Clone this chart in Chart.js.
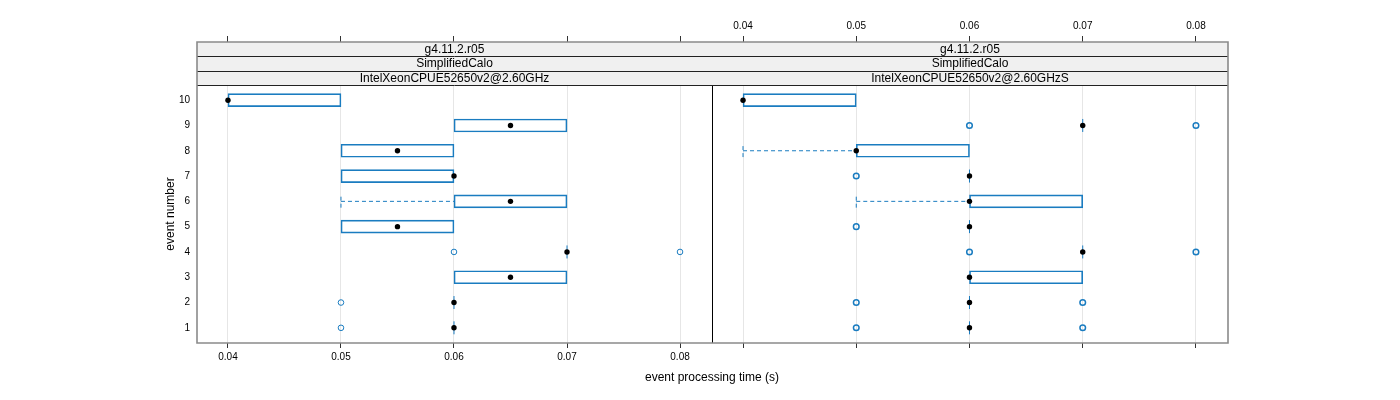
<!DOCTYPE html>
<html><head><meta charset="utf-8">
<script src="https://cdn.jsdelivr.net/npm/chart.js@4.4.1/dist/chart.umd.min.js"></script>
<style>
html,body{margin:0;padding:0;background:#fff;}
#wrap{position:relative;width:1400px;height:400px;}
canvas{position:absolute;left:0;top:0;}
</style>
</head><body>
<div id="wrap"><canvas id="c1" width="1400" height="400"></canvas><canvas id="c2" width="1400" height="400"></canvas></div>
<script>
// ---- data ----
const events = [1, 2, 3, 4, 5, 6, 7, 8, 9, 10];
const xTicks = [0.04, 0.05, 0.06, 0.07, 0.08];
const stripTop = ['g4.11.2.r05', 'SimplifiedCalo'];
const panelNames = ['IntelXeonCPUE52650v2@2.60GHz', 'IntelXeonCPUE52650v2@2.60GHzS'];

// panel 1: IntelXeonCPUE52650v2@2.60GHz
const ghzLow  = [0.06, 0.06, 0.06, 0.07, 0.05, 0.05, 0.05, 0.05, 0.06, 0.04];
const ghzQ1   = [0.06, 0.06, 0.06, 0.07, 0.05, 0.06, 0.05, 0.05, 0.06, 0.04];
const ghzMed  = [0.06, 0.06, 0.065, 0.07, 0.055, 0.065, 0.06, 0.055, 0.065, 0.04];
const ghzQ3   = [0.06, 0.06, 0.07, 0.07, 0.06, 0.07, 0.06, 0.06, 0.07, 0.05];
const ghzHigh = [0.06, 0.06, 0.07, 0.07, 0.06, 0.07, 0.06, 0.06, 0.07, 0.05];
const ghzOut  = [[0.05], [0.05], [], [0.06, 0.08], [], [], [], [], [], []];

// panel 2: IntelXeonCPUE52650v2@2.60GHzS
const ghzsLow  = [0.06, 0.06, 0.06, 0.07, 0.06, 0.05, 0.06, 0.04, 0.07, 0.04];
const ghzsQ1   = [0.06, 0.06, 0.06, 0.07, 0.06, 0.06, 0.06, 0.05, 0.07, 0.04];
const ghzsMed  = [0.06, 0.06, 0.06, 0.07, 0.06, 0.06, 0.06, 0.05, 0.07, 0.04];
const ghzsQ3   = [0.06, 0.06, 0.07, 0.07, 0.06, 0.07, 0.06, 0.06, 0.07, 0.05];
const ghzsHigh = [0.06, 0.06, 0.07, 0.07, 0.06, 0.07, 0.06, 0.06, 0.07, 0.05];
const ghzsOut  = [[0.05, 0.07], [0.05, 0.07], [], [0.06, 0.08], [0.05], [], [0.05], [], [0.06, 0.08], []];

// ---- styling / layout ----
const BLUE = '#1a7cc0';
const XMIN = 0.03726, XMAX = 0.08283;
const YMIN = 0.4, YPANEL = 10.6, YMAX = 12.3;
const CAP = 0.25;
Chart.defaults.font.family = '"Liberation Sans", Arial, Helvetica, sans-serif';
Chart.defaults.color = '#000';

function build(low, q1, med, q3, high, out) {
  const boxes = [], flat = [], whisk = [], outl = [], meds = [];
  events.forEach((e, i) => {
    if (q3[i] > q1[i]) boxes.push({ y: e, x: [q1[i], q3[i]] });
    else flat.push({ x: med[i], y: e });
    if (low[i] < q1[i]) {
      whisk.push({ x: low[i], y: e }, { x: q1[i], y: e }, { x: low[i], y: null },
                 { x: low[i], y: e - CAP }, { x: low[i], y: e + CAP }, { x: low[i], y: null });
    }
    if (high[i] > q3[i]) {
      whisk.push({ x: q3[i], y: e }, { x: high[i], y: e }, { x: high[i], y: null },
                 { x: high[i], y: e - CAP }, { x: high[i], y: e + CAP }, { x: high[i], y: null });
    }
    out[i].forEach(v => outl.push({ x: v, y: e }));
    meds.push({ x: med[i], y: e });
  });
  return { boxes, flat, whisk, outl, meds };
}

const panelPlugin = {
  id: 'panel',
  beforeDatasetsDraw(chart, args, o) {
    const ctx = chart.ctx, a = chart.chartArea, ys = chart.scales.y;
    const sb = ys.getPixelForValue(YPANEL);
    const n = o.strips.length, h = (sb - a.top) / n;
    ctx.save();
    ctx.fillStyle = '#f0f0f0';
    ctx.fillRect(a.left, a.top, a.right - a.left, sb - a.top);
    ctx.strokeStyle = '#222'; ctx.lineWidth = 1;
    for (let i = 1; i <= n; i++) {
      const y = Math.round(a.top + h * i) + 0.5;
      ctx.beginPath(); ctx.moveTo(a.left, y); ctx.lineTo(a.right, y); ctx.stroke();
    }
    ctx.fillStyle = '#000'; ctx.font = '12px "Liberation Sans", Arial, sans-serif';
    ctx.textAlign = 'center'; ctx.textBaseline = 'middle';
    o.strips.forEach((s, i) => ctx.fillText(s, (a.left + a.right) / 2, a.top + h * (i + 0.5) + 0.5));
    ctx.restore();
  },
  afterDatasetsDraw(chart, args, o) {
    const ctx = chart.ctx, a = chart.chartArea, ys = chart.scales.y;
    ctx.save();
    ctx.strokeStyle = '#8a8a8a'; ctx.lineWidth = 1.6;
    ctx.beginPath();
    if (o.side === 'left') {
      ctx.moveTo(a.right, a.top); ctx.lineTo(a.left, a.top); ctx.lineTo(a.left, a.bottom); ctx.lineTo(a.right, a.bottom);
    } else {
      ctx.moveTo(a.left, a.top); ctx.lineTo(a.right, a.top); ctx.lineTo(a.right, a.bottom); ctx.lineTo(a.left, a.bottom);
    }
    ctx.stroke();
    if (o.side === 'left') {
      ctx.strokeStyle = '#000'; ctx.lineWidth = 1;
      ctx.beginPath(); ctx.moveTo(Math.round(a.right) + 0.5, a.top); ctx.lineTo(Math.round(a.right) + 0.5, a.bottom); ctx.stroke();
      ctx.fillStyle = '#000'; ctx.font = '12px "Liberation Sans", Arial, sans-serif';
      ctx.textAlign = 'center'; ctx.textBaseline = 'middle';
      ctx.fillText('event processing time (s)', a.right, 378);
      ctx.save();
      ctx.translate(171, ys.getPixelForValue((YMIN + YPANEL) / 2));
      ctx.rotate(-Math.PI / 2);
      ctx.fillText('event number', 0, 0);
      ctx.restore();
    }
    ctx.restore();
  }
};

function makeChart(id, d, o) {
  return new Chart(document.getElementById(id), {
    type: 'scatter',
    data: { datasets: [
      { type: 'scatter', data: d.meds, pointStyle: 'circle', pointRadius: 2.7, backgroundColor: '#000', borderColor: '#000', borderWidth: 0 },
      { type: 'scatter', data: d.outl, pointStyle: 'circle', pointRadius: 2.8, backgroundColor: 'rgba(255,255,255,0)', borderColor: BLUE, borderWidth: o.outW },
      { type: 'scatter', data: d.flat, pointStyle: 'line', rotation: 90, pointRadius: 6.5, borderColor: BLUE, borderWidth: 1 },
      { type: 'line', data: d.whisk, borderColor: BLUE, borderWidth: 1, borderDash: [4, 3], pointRadius: 0, spanGaps: false, fill: false, tension: 0 },
      { type: 'bar', data: d.boxes, indexAxis: 'y', barThickness: 13, backgroundColor: 'rgba(0,0,0,0)', borderColor: BLUE, borderWidth: 1, borderSkipped: false }
    ]},
    options: {
      responsive: false, animation: false, devicePixelRatio: 1,
      layout: { padding: { left: o.padL, right: o.padR, top: 16, bottom: 27 } },
      plugins: { legend: { display: false }, tooltip: { enabled: false }, panel: { strips: o.strips, side: o.side } },
      scales: {
        x: {
          type: 'linear', axis: 'x', position: 'bottom', min: XMIN, max: XMAX, offset: false,
          afterBuildTicks: s => { s.ticks = xTicks.map(v => ({ value: v })); },
          afterFit: s => { s.height = 30; },
          grid: { color: '#e6e6e6', lineWidth: 1, drawTicks: true, tickLength: 5, tickColor: '#333', tickWidth: 1, offset: false },
          border: { display: false },
          ticks: { display: o.bottomLabels, padding: 3, color: '#000', font: { size: 10 }, maxRotation: 0, autoSkip: false, callback: v => v.toFixed(2) }
        },
        xTop: {
          type: 'linear', axis: 'x', position: 'top', min: XMIN, max: XMAX, offset: false,
          afterBuildTicks: s => { s.ticks = xTicks.map(v => ({ value: v })); },
          afterFit: s => { s.height = 26; },
          grid: { drawOnChartArea: false, drawTicks: true, tickLength: 6, tickColor: '#333', tickWidth: 1, offset: false },
          border: { display: false },
          ticks: { display: o.topLabels, padding: 4, color: '#000', font: { size: 10 }, maxRotation: 0, autoSkip: false, callback: v => v.toFixed(2) }
        },
        y: {
          type: 'linear', axis: 'y', position: 'left', min: YMIN, max: YMAX, display: o.yAxis, offset: false,
          afterBuildTicks: s => { s.ticks = events.map(v => ({ value: v })); },
          afterFit: s => { s.width = o.yAxis ? 37 : 0; },
          grid: { display: false, drawTicks: false, offset: false },
          border: { display: false },
          ticks: { padding: 7, color: '#000', font: { size: 10 } }
        }
      }
    },
    plugins: [panelPlugin]
  });
}

makeChart('c1', build(ghzLow, ghzQ1, ghzMed, ghzQ3, ghzHigh, ghzOut),
  { padL: 160, padR: 688, outW: 1, strips: [...stripTop, panelNames[0]], side: 'left', bottomLabels: true, topLabels: false, yAxis: true });
makeChart('c2', build(ghzsLow, ghzsQ1, ghzsMed, ghzsQ3, ghzsHigh, ghzsOut),
  { padL: 712, padR: 172, outW: 1.5, strips: [...stripTop, panelNames[1]], side: 'right', bottomLabels: false, topLabels: true, yAxis: false });
</script>
</body></html>
